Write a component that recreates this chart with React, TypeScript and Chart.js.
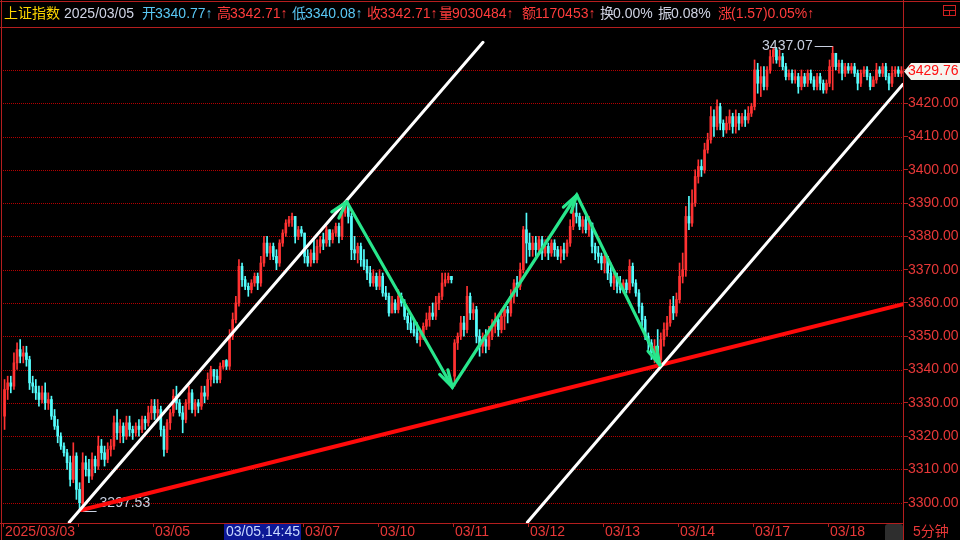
import React, { useEffect, useRef } from 'react';
import { Chart, registerables } from 'chart.js';

Chart.register(...registerables);

const FONT = '"Liberation Sans", Arial, "Noto Sans CJK SC", sans-serif';
Chart.defaults.font.family = FONT;

// ---------------- data ----------------
const indexName = '上证指数';
const crosshairDate = '2025/03/05';
const headerKeys = ['开', '高', '低', '收', '量', '额', '换', '振', '涨'];
const headerValues = ['3340.77↑', '3342.71↑', '3340.08↑', '3342.71↑', '9030484↑', '1170453↑', '0.00%', '0.08%', '(1.57)0.05%↑'];

const tradingDays = ['2025/03/03', '03/04', '03/05', '03/06', '03/07', '03/10', '03/11', '03/12', '03/13', '03/14', '03/17', '03/18'];
const dayTickLabels = ['2025/03/03', '', '03/05', '03/06', '03/07', '03/10', '03/11', '03/12', '03/13', '03/14', '03/17', '03/18'];
const barsPerDay = 24;
const priceTicks = [3300, 3310, 3320, 3330, 3340, 3350, 3360, 3370, 3380, 3390, 3400, 3410, 3420, 3430];
const priceMin = 3293.9;
const priceMax = 3442.9;
const crosshairBar = 70;
const crosshairLabel = '03/05,14:45';
const periodLabel = '5分钟';

const opens = [
  3326, 3334, 3336, 3335, 3342, 3346, 3344, 3345, 3343, 3336, 3335, 3333, 3331, 3333, 3330, 3331, 3326, 3323, 3320, 3317, 3315, 3312, 3307, 3314,
  3304, 3300, 3312, 3310, 3308, 3313, 3311, 3317, 3315, 3313, 3316, 3317, 3324, 3321, 3323, 3320, 3324, 3322, 3321, 3323, 3322, 3325, 3324, 3327,
  3329, 3327, 3328, 3322, 3316, 3324, 3327, 3332, 3330, 3327, 3325, 3330, 3333, 3328, 3330, 3329, 3333, 3332, 3337, 3340, 3338, 3337, 3340.77, 3342.71,
  3341, 3350, 3355, 3360, 3371, 3367, 3365, 3364, 3366, 3368, 3366, 3372, 3378, 3375, 3377, 3374, 3372, 3378, 3381, 3384, 3385, 3386, 3380, 3382,
  3381, 3374, 3372, 3375, 3373, 3377, 3379, 3378, 3382, 3379, 3381, 3383, 3380, 3387, 3389, 3386, 3376, 3375, 3377, 3373, 3371, 3369, 3366, 3368,
  3365, 3368, 3363, 3362, 3357, 3360, 3358, 3362, 3360, 3356, 3354, 3352, 3351, 3349, 3350, 3353, 3355, 3357, 3356, 3360, 3362, 3366, 3367, 3368,
  3338, 3348, 3350, 3354, 3352, 3362, 3357, 3358, 3350, 3347, 3349, 3347, 3350, 3353, 3355, 3352, 3356, 3358, 3357, 3362, 3366, 3365, 3370, 3382,
  3378, 3376, 3378, 3376, 3379, 3375, 3377, 3375, 3378, 3376, 3374, 3376, 3375, 3378, 3383, 3387, 3386, 3383, 3385, 3382, 3384, 3377, 3375, 3374,
  3372, 3374, 3369, 3366, 3368, 3365, 3364, 3366, 3364, 3371, 3366, 3363, 3359, 3355, 3350, 3348, 3345, 3347, 3343, 3349, 3352, 3354, 3359, 3357,
  3361, 3368, 3370, 3386, 3384, 3390, 3398, 3401, 3400, 3406, 3409, 3416, 3413, 3419, 3414, 3412, 3414, 3416, 3413, 3416, 3414, 3416, 3415, 3417,
  3419, 3430, 3426, 3428, 3425, 3430, 3434, 3436, 3433, 3434, 3431, 3428, 3429, 3427, 3428, 3425, 3428, 3426, 3429, 3427, 3425, 3428, 3426, 3424,
  3426, 3431, 3435, 3431, 3432, 3429, 3431, 3430, 3431, 3429, 3426, 3429, 3430, 3428, 3425, 3427, 3430, 3429, 3431, 3428, 3426, 3429, 3430, 3429,
];

const closes = [
  3334, 3336, 3335, 3342, 3346, 3344, 3345, 3343, 3336, 3335, 3333, 3331, 3333, 3330, 3331, 3326, 3323, 3320, 3317, 3315, 3312, 3307, 3314, 3304,
  3300, 3312, 3310, 3308, 3313, 3311, 3317, 3315, 3313, 3316, 3317, 3324, 3321, 3323, 3320, 3324, 3322, 3321, 3323, 3322, 3325, 3324, 3327, 3329,
  3327, 3328, 3322, 3316, 3324, 3327, 3332, 3330, 3327, 3325, 3330, 3333, 3328, 3330, 3329, 3333, 3332, 3337, 3340, 3338, 3337, 3341, 3342.71, 3341,
  3350, 3355, 3360, 3371, 3367, 3365, 3364, 3366, 3368, 3366, 3372, 3378, 3375, 3377, 3374, 3372, 3378, 3381, 3384, 3385, 3386, 3380, 3382, 3381,
  3374, 3372, 3375, 3373, 3377, 3379, 3378, 3382, 3379, 3381, 3383, 3380, 3387, 3389, 3386, 3376, 3375, 3377, 3373, 3371, 3369, 3366, 3368, 3365,
  3368, 3363, 3362, 3357, 3360, 3358, 3362, 3360, 3356, 3354, 3352, 3351, 3349, 3350, 3353, 3355, 3357, 3356, 3360, 3362, 3366, 3367, 3368, 3367,
  3348, 3350, 3354, 3352, 3362, 3357, 3358, 3350, 3347, 3349, 3347, 3350, 3353, 3355, 3352, 3356, 3358, 3357, 3362, 3366, 3365, 3370, 3382, 3378,
  3376, 3378, 3376, 3379, 3375, 3377, 3375, 3378, 3376, 3374, 3376, 3375, 3378, 3383, 3387, 3386, 3383, 3385, 3382, 3384, 3377, 3375, 3374, 3372,
  3374, 3369, 3366, 3368, 3365, 3364, 3366, 3364, 3371, 3366, 3363, 3359, 3355, 3350, 3348, 3345, 3347, 3343, 3349, 3352, 3354, 3359, 3357, 3361,
  3368, 3370, 3386, 3384, 3390, 3398, 3401, 3400, 3406, 3409, 3416, 3413, 3419, 3414, 3412, 3414, 3416, 3413, 3416, 3414, 3416, 3415, 3417, 3419,
  3430, 3426, 3428, 3425, 3430, 3434, 3436, 3433, 3434, 3431, 3428, 3429, 3427, 3428, 3425, 3428, 3426, 3429, 3427, 3425, 3428, 3426, 3424, 3426,
  3431, 3435, 3431, 3432, 3429, 3431, 3430, 3431, 3429, 3426, 3429, 3430, 3428, 3425, 3427, 3430, 3429, 3431, 3428, 3426, 3429, 3430, 3429, 3429.76,
];

const highs = [
  3337, 3338, 3338, 3345, 3348, 3349, 3347, 3347, 3344, 3338, 3337, 3335, 3335, 3336, 3333, 3332, 3328, 3325, 3321, 3318, 3316, 3314, 3318, 3315,
  3306, 3315, 3314, 3313, 3315, 3314, 3320, 3319, 3317, 3318, 3319, 3326, 3328, 3325, 3324, 3326, 3326, 3323, 3324, 3325, 3326, 3326, 3329, 3331,
  3331, 3331, 3329, 3323, 3325, 3328, 3334, 3335, 3331, 3329, 3331, 3335, 3334, 3331, 3331, 3335, 3335, 3339, 3341, 3340, 3340, 3342, 3342.71, 3343,
  3352, 3357, 3362, 3373, 3372, 3368, 3366, 3367, 3369, 3369, 3374, 3380, 3380, 3378, 3378, 3376, 3379, 3382, 3385, 3386, 3387, 3386, 3383, 3383,
  3381, 3376, 3376, 3379, 3379, 3380, 3381, 3383, 3382, 3382, 3384, 3384, 3388, 3390, 3390, 3387, 3380, 3378, 3378, 3376, 3373, 3371, 3370, 3369,
  3370, 3369, 3365, 3363, 3362, 3361, 3364, 3363, 3361, 3357, 3356, 3355, 3354, 3352, 3354, 3357, 3359, 3360, 3362, 3363, 3369, 3369, 3369, 3368,
  3349, 3351, 3356, 3356, 3365, 3363, 3360, 3359, 3352, 3351, 3352, 3353, 3355, 3357, 3356, 3358, 3359, 3359, 3364, 3367, 3368, 3372, 3383, 3387,
  3381, 3380, 3380, 3380, 3380, 3379, 3378, 3379, 3379, 3377, 3377, 3378, 3379, 3385, 3389, 3390, 3387, 3386, 3386, 3386, 3384, 3378, 3377, 3375,
  3375, 3374, 3372, 3370, 3369, 3368, 3367, 3367, 3373, 3372, 3367, 3364, 3360, 3356, 3351, 3349, 3349, 3352, 3351, 3354, 3356, 3361, 3362, 3363,
  3372, 3375, 3389, 3392, 3394, 3400, 3403, 3403, 3408, 3411, 3419, 3418, 3421, 3420, 3415, 3416, 3418, 3417, 3418, 3417, 3417, 3418, 3419, 3420,
  3433, 3432, 3431, 3431, 3431, 3436, 3436.5, 3436.5, 3436, 3435, 3432, 3430, 3430, 3430, 3429, 3430, 3429, 3430, 3430, 3428, 3429, 3429, 3427, 3427,
  3433, 3437.07, 3435, 3433, 3433, 3432, 3432, 3432, 3432, 3430, 3430, 3431, 3431, 3429, 3428, 3432, 3431, 3432, 3432, 3429, 3431, 3431, 3431, 3431,
];

const lows = [
  3322, 3331, 3333, 3334, 3340, 3342, 3342, 3341, 3334, 3333, 3331, 3329, 3330, 3328, 3328, 3325, 3322, 3318, 3316, 3314, 3310, 3305, 3306, 3301,
  3297.53, 3299, 3308, 3306, 3307, 3309, 3310, 3313, 3311, 3312, 3314, 3316, 3319, 3318, 3318, 3319, 3320, 3319, 3320, 3320, 3321, 3322, 3323, 3325,
  3325, 3325, 3320, 3314, 3315, 3322, 3326, 3328, 3326, 3321, 3324, 3328, 3327, 3326, 3327, 3328, 3330, 3331, 3335, 3336, 3336, 3336, 3340.08, 3340,
  3340, 3349, 3354, 3359, 3365, 3364, 3362, 3363, 3365, 3364, 3365, 3371, 3374, 3373, 3373, 3370, 3371, 3377, 3380, 3383, 3383, 3378, 3379, 3380,
  3372, 3371, 3371, 3372, 3372, 3375, 3376, 3377, 3377, 3378, 3380, 3378, 3379, 3386, 3384, 3373, 3373, 3372, 3371, 3370, 3367, 3365, 3365, 3364,
  3364, 3362, 3361, 3356, 3357, 3357, 3357, 3359, 3355, 3352, 3351, 3350, 3348, 3347, 3349, 3352, 3353, 3355, 3355, 3358, 3361, 3365, 3366, 3366,
  3335, 3346, 3349, 3350, 3351, 3355, 3355, 3348, 3344, 3345, 3345, 3346, 3349, 3351, 3350, 3351, 3352, 3354, 3356, 3360, 3362, 3364, 3369, 3372,
  3374, 3374, 3374, 3375, 3373, 3374, 3373, 3374, 3374, 3373, 3372, 3373, 3374, 3377, 3382, 3384, 3382, 3381, 3381, 3380, 3375, 3373, 3372, 3370,
  3369, 3367, 3365, 3364, 3363, 3363, 3363, 3363, 3363, 3365, 3362, 3357, 3353, 3349, 3346, 3343, 3342, 3341.5, 3342, 3347, 3350, 3353, 3355, 3356,
  3360, 3366, 3368, 3382, 3383, 3389, 3396, 3398, 3399, 3405, 3408, 3410, 3412, 3412, 3410, 3411, 3412, 3411, 3411, 3412, 3413, 3413, 3414, 3416,
  3418, 3423, 3422, 3424, 3424, 3429, 3432, 3432, 3431, 3430, 3427, 3427, 3426, 3426, 3423, 3424, 3425, 3425, 3426, 3424, 3424, 3424, 3423, 3423,
  3425, 3424, 3430, 3429, 3427, 3428, 3429, 3429, 3428, 3424, 3425, 3428, 3427, 3424, 3425, 3426, 3428, 3428, 3427, 3424, 3425, 3428, 3428, 3428,
];

// drawn studies: [bar index, price]
const upperChannel = [[20.7, 3294.1], [153.1, 3438.3]];
const lowerChannel = [[167.3, 3294.1], [287.5, 3425.7]];
const supportLine = [[24.6, 3297.8], [287.5, 3359.6]];
const waveArrows = [[109.5, 3390.4], [143.3, 3334.7], [183.1, 3392.4], [209.7, 3341.4]];

// ---------------- styles ----------------
const UP = '#ff3232';
const DOWN = '#54fcfc';
const FRAME = '#b41e1e';
const GRID = '#b40000';
const AXIS_TEXT = '#e83838';
const HDR_RED = '#ff3c3c';
const HDR_BLUE = '#5ac8f5';
const HDR_GRAY = '#d0d4e4';
const MARK_TEXT = '#c8d0e0';
const fieldColors = [HDR_BLUE, HDR_RED, HDR_BLUE, HDR_RED, HDR_RED, HDR_RED, HDR_GRAY, HDR_GRAY, HDR_RED];
const fieldX = [142, 217, 292, 367, 439, 522, 600, 658, 718];

function arrowHead(ctx: CanvasRenderingContext2D, tx: number, ty: number, fx: number, fy: number) {
  const ang = Math.atan2(fy - ty, fx - tx);
  const len = 18;
  const half = (15 * Math.PI) / 180;
  for (const s of [-1, 1]) {
    ctx.beginPath();
    ctx.moveTo(tx, ty);
    ctx.lineTo(tx + len * Math.cos(ang + s * half), ty + len * Math.sin(ang + s * half));
    ctx.stroke();
  }
}

const overlayPlugin = {
  id: 'overlay',
  beforeDraw(chart: any) {
    const { ctx, width, height } = chart;
    ctx.save();
    ctx.fillStyle = '#000';
    ctx.fillRect(0, 0, width, height);
    ctx.restore();
  },
  beforeDatasetsDraw(chart: any) {
    const { ctx, chartArea: ca, scales } = chart;
    const y = scales.y;
    ctx.save();
    ctx.strokeStyle = GRID;
    ctx.lineWidth = 1;
    ctx.setLineDash([1, 1]);
    y.ticks.forEach((t: any) => {
      const py = Math.round(y.getPixelForValue(t.value)) + 0.5;
      ctx.beginPath();
      ctx.moveTo(ca.left, py);
      ctx.lineTo(ca.right, py);
      ctx.stroke();
    });
    ctx.restore();
  },
  afterDatasetsDraw(chart: any) {
    const { ctx, chartArea: ca, scales } = chart;
    const X = (v: number) => scales.x.getPixelForValue(v);
    const Y = (v: number) => scales.y.getPixelForValue(v);

    // min / max markers
    let lo = 0;
    let hi = 0;
    lows.forEach((v, i) => { if (v < lows[lo]) lo = i; });
    highs.forEach((v, i) => { if (v > highs[hi]) hi = i; });
    ctx.save();
    ctx.font = `14px ${FONT}`;
    ctx.textBaseline = 'middle';
    ctx.strokeStyle = MARK_TEXT;
    ctx.fillStyle = MARK_TEXT;
    ctx.lineWidth = 1;
    const lx = X(lo);
    const ly = Math.round(Y(lows[lo])) + 0.5;
    ctx.beginPath();
    ctx.moveTo(lx + 3, ly);
    ctx.lineTo(lx + 17, ly);
    ctx.stroke();
    ctx.textAlign = 'left';
    ctx.fillText(lows[lo].toFixed(2), lx + 20, ly - 8);
    const hx = X(hi);
    const hy = Math.round(Y(highs[hi])) + 0.5;
    ctx.beginPath();
    ctx.moveTo(hx - 18, hy);
    ctx.lineTo(hx, hy);
    ctx.stroke();
    ctx.textAlign = 'right';
    ctx.fillText(highs[hi].toFixed(2), hx - 20, hy);
    ctx.restore();

    // drawn studies
    ctx.save();
    ctx.beginPath();
    ctx.rect(ca.left, ca.top, ca.right - ca.left, ca.bottom - ca.top);
    ctx.clip();
    ctx.lineCap = 'round';
    const seg = (pts: number[][], color: string, w: number) => {
      ctx.strokeStyle = color;
      ctx.lineWidth = w;
      ctx.beginPath();
      pts.forEach((p, i) => {
        const px = X(p[0]);
        const py = Y(p[1]);
        if (i === 0) ctx.moveTo(px, py); else ctx.lineTo(px, py);
      });
      ctx.stroke();
    };
    seg(supportLine, '#ff0a0a', 4);
    seg(upperChannel, '#ffffff', 3);
    seg(lowerChannel, '#ffffff', 3);
    seg(waveArrows, '#28e68c', 3.2);
    ctx.strokeStyle = '#28e68c';
    ctx.lineWidth = 3.2;
    const pts = waveArrows.map((p) => [X(p[0]), Y(p[1])]);
    for (let i = 1; i < pts.length; i++) {
      arrowHead(ctx, pts[i][0], pts[i][1], pts[i - 1][0], pts[i - 1][1]);
    }
    arrowHead(ctx, pts[0][0], pts[0][1], X(upperChannel[0][0]), Y(upperChannel[0][1]));
    ctx.restore();
  },
  afterDraw(chart: any) {
    const { ctx, chartArea: ca, scales, width, height } = chart;
    const X = (v: number) => scales.x.getPixelForValue(v);
    const Y = (v: number) => scales.y.getPixelForValue(v);
    ctx.save();
    // frame
    ctx.strokeStyle = FRAME;
    ctx.lineWidth = 1;
    ctx.beginPath();
    ctx.moveTo(0, 1.5); ctx.lineTo(width, 1.5);
    ctx.moveTo(1.5, 0); ctx.lineTo(1.5, height);
    ctx.moveTo(0, ca.top + 0.5); ctx.lineTo(width, ca.top + 0.5);
    ctx.moveTo(ca.right + 0.5, 0); ctx.lineTo(ca.right + 0.5, height);
    ctx.moveTo(0, ca.bottom + 0.5); ctx.lineTo(ca.right, ca.bottom + 0.5);
    ctx.stroke();

    // window icon
    ctx.strokeStyle = '#d02020';
    ctx.strokeRect(943.5, 5.5, 12, 10);
    ctx.beginPath();
    ctx.moveTo(943.5, 10.5); ctx.lineTo(955.5, 10.5);
    ctx.moveTo(949.5, 10.5); ctx.lineTo(949.5, 15.5);
    ctx.stroke();

    // header
    ctx.font = `14px ${FONT}`;
    ctx.textBaseline = 'middle';
    ctx.textAlign = 'left';
    const hy = 14;
    ctx.fillStyle = '#ffd700';
    ctx.fillText(indexName, 4, hy);
    ctx.fillStyle = HDR_GRAY;
    ctx.fillText(crosshairDate, 64, hy);
    headerKeys.forEach((k, i) => {
      ctx.fillStyle = fieldColors[i];
      ctx.fillText(k, fieldX[i], hy);
      ctx.fillText(headerValues[i], fieldX[i] + 13, hy);
    });

    // last price tag
    const last = closes[closes.length - 1];
    const ty = Math.round(Y(last)) + 0.5;
    ctx.fillStyle = '#f4f4ee';
    ctx.beginPath();
    ctx.moveTo(ca.right + 1, ty);
    ctx.lineTo(ca.right + 8, ty - 8.5);
    ctx.lineTo(width, ty - 8.5);
    ctx.lineTo(width, ty + 8.5);
    ctx.lineTo(ca.right + 8, ty + 8.5);
    ctx.closePath();
    ctx.fill();
    ctx.fillStyle = '#ff1010';
    ctx.fillText(last.toFixed(2), ca.right + 5, ty);

    // crosshair date box on the time axis
    const bx = Math.round(X(crosshairBar)) + 1;
    ctx.fillStyle = '#0c1896';
    ctx.fillRect(bx, ca.bottom + 1, 77, height - ca.bottom - 1);
    ctx.fillStyle = '#c8d8ff';
    ctx.fillText(crosshairLabel, bx + 2, ca.bottom + 9);

    // period selector
    ctx.fillStyle = '#2e2e2e';
    ctx.beginPath();
    ctx.moveTo(885, height);
    ctx.lineTo(885, ca.bottom + 4);
    ctx.quadraticCurveTo(885, ca.bottom + 1, 888, ca.bottom + 1);
    ctx.lineTo(ca.right - 3, ca.bottom + 1);
    ctx.quadraticCurveTo(ca.right, ca.bottom + 1, ca.right, ca.bottom + 4);
    ctx.lineTo(ca.right, height);
    ctx.closePath();
    ctx.fill();
    ctx.fillStyle = AXIS_TEXT;
    ctx.fillText(periodLabel, ca.right + 10, ca.bottom + 9);
    ctx.restore();
  },
};

export default function App() {
  const ref = useRef<HTMLCanvasElement>(null);
  useEffect(() => {
    const canvas = ref.current;
    if (!canvas) return;
    const colors = closes.map((c, i) => (c >= opens[i] ? UP : DOWN));
    const bodies = opens.map((o, i) => ({ x: i, y: [o, closes[i]] }));
    const wicks = lows.map((l, i) => ({ x: i, y: [l, highs[i]] }));
    const dayStarts = tradingDays.map((_, d) => d * barsPerDay - 0.5);
    const chart = new Chart(canvas, {
      type: 'bar',
      data: {
        datasets: [
          { label: 'wick', data: wicks as any, backgroundColor: colors, barThickness: 1, grouped: false, borderWidth: 0 } as any,
          { label: 'body', data: bodies as any, backgroundColor: colors, barThickness: 2, grouped: false, borderWidth: 0, minBarLength: 1 } as any,
        ],
      },
      options: {
        animation: false,
        responsive: false,
        events: [],
        layout: { padding: { left: 3, top: 27, right: 0, bottom: 0 } },
        plugins: { legend: { display: false }, tooltip: { enabled: false } },
        scales: {
          x: {
            type: 'linear',
            min: -0.5,
            max: tradingDays.length * barsPerDay - 0.5,
            offset: false,
            afterBuildTicks: (s: any) => { s.ticks = dayStarts.map((v) => ({ value: v })); },
            afterFit: (s: any) => { s.height = 17; },
            grid: { display: true, offset: false, drawOnChartArea: false, drawTicks: true, tickLength: 4, color: FRAME, tickColor: FRAME },
            border: { display: false },
            ticks: {
              autoSkip: false,
              maxRotation: 0,
              minRotation: 0,
              align: 'start',
              labelOffset: 2,
              padding: -2,
              color: AXIS_TEXT,
              font: { size: 14, family: FONT, lineHeight: 1 },
              callback: (_v: any, i: number) => dayTickLabels[i],
            },
          } as any,
          y: {
            type: 'linear',
            position: 'right',
            min: priceMin,
            max: priceMax,
            beginAtZero: false,
            afterBuildTicks: (s: any) => { s.ticks = priceTicks.map((v) => ({ value: v })); },
            afterFit: (s: any) => { s.width = 57; },
            grid: { display: true, drawOnChartArea: false, drawTicks: true, tickLength: 5, color: FRAME, tickColor: FRAME },
            border: { display: false },
            ticks: {
              padding: 0,
              color: AXIS_TEXT,
              font: { size: 14, family: FONT },
              callback: (v: any) => Number(v).toFixed(2),
            },
          } as any,
        },
      },
      plugins: [overlayPlugin],
    });
    return () => chart.destroy();
  }, []);
  return (
    <div style={{ position: 'fixed', left: 0, top: 0, width: 960, height: 540, background: '#000' }}>
      <canvas ref={ref} width={960} height={540} style={{ display: 'block' }} />
    </div>
  );
}
